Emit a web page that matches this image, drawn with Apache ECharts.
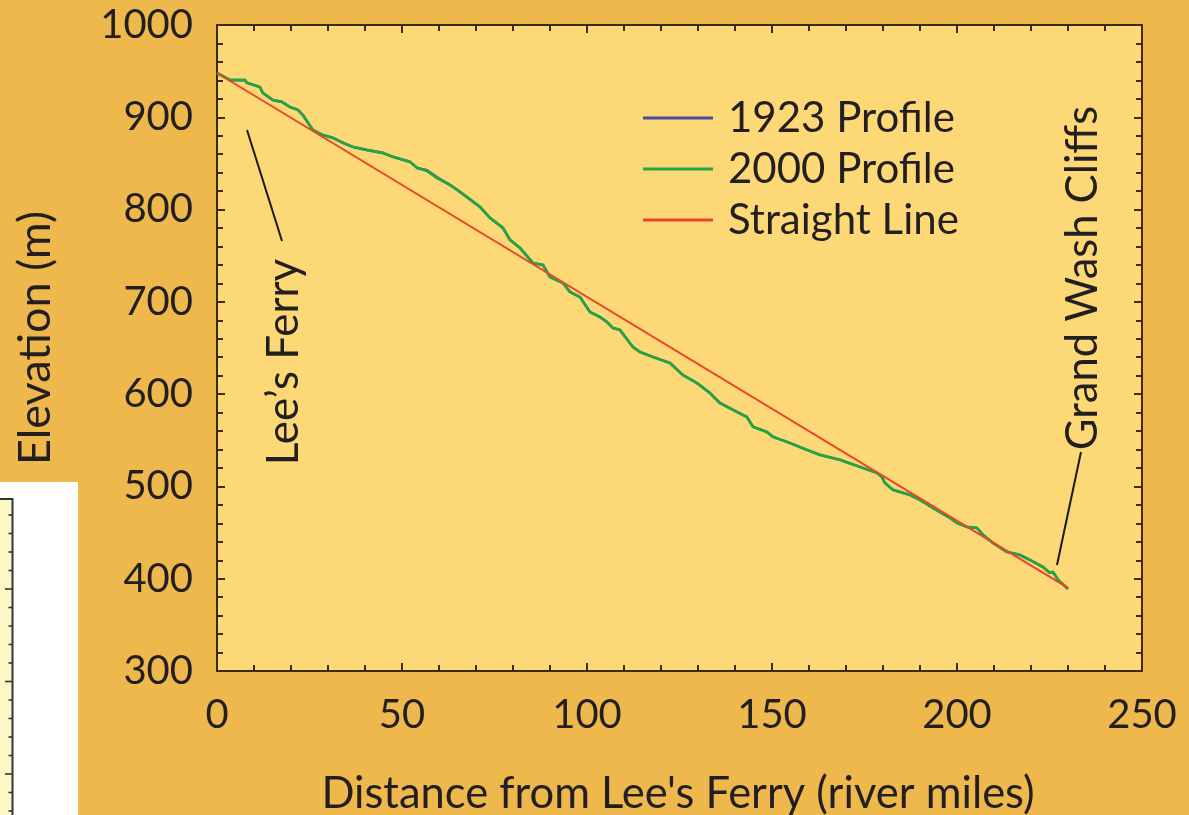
<!DOCTYPE html>
<html>
<head>
<meta charset="utf-8">
<title>Colorado River longitudinal profile</title>
<script src="https://cdn.jsdelivr.net/npm/echarts@6/dist/echarts.min.js"></script>
<style>
  html, body { margin: 0; padding: 0; background: #EFB84C; }
  #chart { width: 1189px; height: 815px; }
</style>
</head>
<body>
<div id="chart"></div>
<script>
// River distance below Lee's Ferry (river miles) for each surveyed point
const miles2000 = [0, 3.5, 7.6, 8.1, 11.6, 12.4, 15.1, 17.6, 19.7, 21.9, 23.2, 25.9, 28.6, 31.4, 34.1, 36.8,
  40.5, 44.9, 47.6, 52.2, 54.1, 56.8, 59.5, 63.0, 65.7, 71.1, 73.8, 77.3, 79.2, 81.9, 85.4, 88.1, 90.0,
  93.5, 95.4, 98.1, 100.8, 103.5, 105.4, 107.0, 108.9, 112.4, 114.3, 117.8, 122.4, 125.9, 129.7, 133.2,
  135.9, 139.5, 143.2, 144.9, 148.6, 150.3, 154.1, 159.5, 163.0, 168.4, 173.8, 178.4, 179.7, 180.5,
  182.7, 187.3, 190.0, 193.5, 198.1, 200.0, 202.7, 205.4, 207.0, 209.7, 213.5, 217.0, 219.7, 223.2,
  225.1, 225.9, 227.3, 230.0];
// Water-surface elevation in 2000 (m)
const elev2000 = [948.0, 940.4, 940.4, 937.2, 932.8, 926.3, 918.7, 916.6, 911.2, 907.9, 902.5, 886.2, 880.8,
  877.6, 872.2, 867.8, 864.6, 861.3, 857.0, 851.6, 845.1, 841.8, 834.2, 826.7, 819.1, 802.8, 790.9, 780.1,
  767.1, 758.4, 742.1, 740.0, 727.0, 720.5, 710.7, 705.3, 689.1, 683.6, 678.2, 671.7, 669.6, 651.1, 645.7,
  640.3, 633.8, 620.8, 612.1, 601.3, 590.5, 582.9, 575.3, 564.5, 559.1, 553.6, 548.2, 539.5, 534.1, 528.7,
  521.1, 514.6, 510.3, 503.8, 496.2, 490.8, 485.4, 476.7, 465.9, 460.5, 456.1, 455.0, 447.6, 438.8, 429.0,
  425.8, 420.4, 412.8, 406.3, 407.4, 398.8, 389.0];
// Water-surface elevation in 1923 (m), same stations
const elev1923 = [948.0, 940.4, 940.0, 937.2, 932.8, 926.3, 918.7, 916.6, 911.2, 907.9, 902.5, 886.2, 880.8,
  877.6, 872.2, 867.8, 864.6, 861.3, 857.0, 851.6, 845.1, 842.6, 835.0, 826.7, 819.1, 802.8, 790.9, 780.1,
  767.1, 758.4, 742.1, 740.0, 727.0, 720.5, 710.7, 705.3, 689.1, 683.6, 678.2, 671.7, 669.6, 651.1, 645.7,
  640.3, 633.8, 620.8, 612.1, 601.3, 590.5, 582.9, 575.3, 564.5, 559.1, 553.6, 548.2, 539.5, 534.1, 528.7,
  521.1, 514.6, 510.3, 503.8, 496.2, 490.8, 485.4, 476.7, 465.9, 460.5, 456.1, 455.0, 447.6, 438.8, 429.0,
  425.8, 420.4, 412.8, 406.3, 407.4, 398.8, 389.0];
// End points of the straight reference line
const straightMiles = [0, 230];
const straightElev = [948, 390];

const seriesNames = ['1923 Profile', '2000 Profile', 'Straight Line'];
const seriesColors = ['#4B4A9E', '#26A344', '#E8452B'];
const xTitle = "Distance from Lee's Ferry (river miles)";
const yTitle = 'Elevation (m)';
const startLabel = 'Lee\u2019s Ferry';
const endLabel = 'Grand Wash Cliffs';

const zip = (xs, ys) => xs.map((x, i) => [x, ys[i]]);

const FONT = 'Lato';
const INK = '#231F20';
const AXIS = '#3A2C18';

const chart = echarts.init(document.getElementById('chart'));

// ticks of the neighbouring panel peeking in at the lower-left corner
const insetTicks = [];
for (let k = -4; k <= 12; k++) {
  const y = 589 + k * 18.5;
  if (y < 501 || y > 815) continue;
  const major = k % 5 === 0;
  insetTicks.push({
    type: 'line', silent: true,
    shape: { x1: 12.5, y1: y, x2: major ? 5 : 8.5, y2: y },
    style: { stroke: '#333', lineWidth: 1.6 }
  });
}

// frame axes: kept on the grid edges, ticks pointing into the plot area
function frameAxis(extra) {
  return Object.assign({
    axisLine: { show: true, onZero: false, lineStyle: { color: AXIS, width: 2 } },
    axisTick: { show: true, inside: true, length: 8, lineStyle: { color: AXIS, width: 2 } },
    minorTick: { show: true, splitNumber: 5, length: 6, lineStyle: { color: AXIS, width: 2 } },
    splitLine: { show: false }
  }, extra);
}

const tickLabel = { fontFamily: FONT, fontSize: 40, color: INK, formatter: v => String(v) };

// legend swatch: a plain horizontal bar
const swatch = 'path://M0,0L70,0L70,3L0,3Z';

chart.setOption({
  backgroundColor: '#EFB84C',
  animation: false,
  textStyle: { fontFamily: FONT },
  grid: {
    left: 217, right: 47, top: 25, bottom: 144,
    show: true, backgroundColor: '#FDD877', borderWidth: 0
  },
  legend: {
    orient: 'vertical',
    left: 638, top: 92,
    itemWidth: 70, itemHeight: 3, itemGap: 9,
    data: seriesNames.map(n => ({ name: n, icon: swatch })),
    textStyle: { fontFamily: FONT, fontSize: 42, color: INK, padding: [0, 0, 0, 10] }
  },
  xAxis: [
    frameAxis({ type: 'value', min: 0, max: 250, interval: 50, position: 'bottom',
      axisLabel: Object.assign({ margin: 24 }, tickLabel) }),
    frameAxis({ type: 'value', min: 0, max: 250, interval: 50, position: 'top',
      axisLabel: { show: false } })
  ],
  yAxis: [
    frameAxis({ type: 'value', min: 300, max: 1000, interval: 100, position: 'left',
      axisLabel: Object.assign({ margin: 24 }, tickLabel) }),
    frameAxis({ type: 'value', min: 300, max: 1000, interval: 100, position: 'right',
      axisLabel: { show: false } })
  ],
  series: [
    {
      name: seriesNames[0], type: 'line', data: zip(miles2000, elev1923),
      symbol: 'none', lineStyle: { color: seriesColors[0], width: 2.4 }, itemStyle: { color: seriesColors[0] }, z: 2
    },
    {
      name: seriesNames[1], type: 'line', data: zip(miles2000, elev2000),
      symbol: 'none', lineStyle: { color: seriesColors[1], width: 2.8 }, itemStyle: { color: seriesColors[1] }, z: 3
    },
    {
      name: seriesNames[2], type: 'line', data: zip(straightMiles, straightElev),
      symbol: 'none', lineStyle: { color: seriesColors[2], width: 2 }, itemStyle: { color: seriesColors[2] }, z: 4
    }
  ],
  graphic: [
    // axis titles
    {
      type: 'text', x: 678, y: 794, silent: true,
      style: { text: xTitle, fontFamily: FONT, fontSize: 43.5, fill: INK, align: 'center', verticalAlign: 'middle' }
    },
    {
      type: 'text', x: 35, y: 338, rotation: Math.PI / 2, silent: true,
      style: { text: yTitle, fontFamily: FONT, fontSize: 45, fill: INK, align: 'center', verticalAlign: 'middle' }
    },
    // place-name annotations with leader lines
    {
      type: 'text', x: 284, y: 362, rotation: Math.PI / 2, silent: true,
      style: { text: startLabel, fontFamily: FONT, fontSize: 44, fill: INK, align: 'center', verticalAlign: 'middle' }
    },
    {
      type: 'line', silent: true,
      shape: { x1: 247, y1: 130, x2: 282, y2: 241 },
      style: { stroke: '#1A1A1A', lineWidth: 2 }
    },
    {
      type: 'text', x: 1083, y: 278, rotation: Math.PI / 2, silent: true,
      style: { text: endLabel, fontFamily: FONT, fontSize: 43.5, fill: INK, align: 'center', verticalAlign: 'middle' }
    },
    {
      type: 'line', silent: true,
      shape: { x1: 1081, y1: 452, x2: 1057, y2: 565 },
      style: { stroke: '#1A1A1A', lineWidth: 2 }
    },
    // neighbouring panel edge at lower left
    {
      type: 'rect', silent: true, shape: { x: 0, y: 482, width: 78, height: 333 },
      style: { fill: '#FFFFFF' }
    },
    {
      type: 'rect', silent: true, shape: { x: 0, y: 499, width: 12.5, height: 316 },
      style: { fill: '#FBF8C6' }
    },
    {
      type: 'polyline', silent: true,
      shape: { points: [[0, 499], [12.5, 499], [12.5, 815]] },
      style: { stroke: '#333', lineWidth: 2, fill: null }
    }
  ].concat(insetTicks)
});
</script>
</body>
</html>
